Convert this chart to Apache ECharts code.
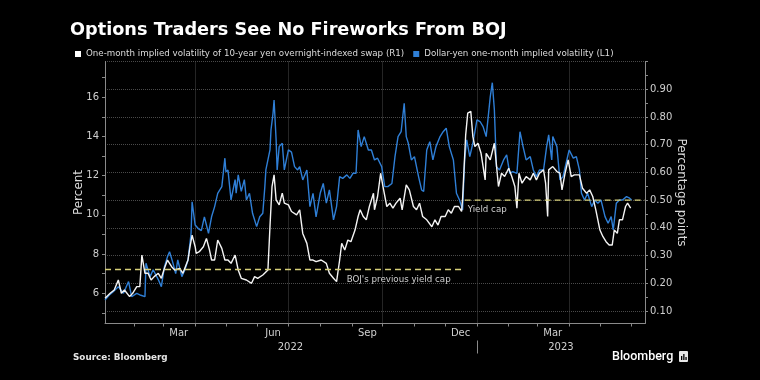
<!DOCTYPE html>
<html><head><meta charset="utf-8">
<script src="https://cdn.jsdelivr.net/npm/echarts@6/dist/echarts.min.js"></script>
<style>html,body{margin:0;padding:0;background:#000;}#c{width:760px;height:380px;}</style>
</head><body><div id="c"></div>
<script>
const titleText = 'Options Traders See No Fireworks From BOJ';
const swapName = 'One-month implied volatility of 10-year yen overnight-indexed swap (R1)';
const fxName = 'Dollar-yen one-month implied volatility (L1)';
const leftAxisName = 'Percent';
const rightAxisName = 'Percentage points';
const sourceText = 'Source: Bloomberg';
const logoText = 'Bloomberg';

const xMin = '2022-01-03';
const xMax = '2023-06-14';
const monthNames = ['Jan','Feb','Mar','Apr','May','Jun','Jul','Aug','Sep','Oct','Nov','Dec'];
const monthTicks = ['2022-02-01','2022-03-01','2022-04-01','2022-05-01','2022-06-01','2022-07-01','2022-08-01','2022-09-01','2022-10-01','2022-11-01','2022-12-01','2023-01-01','2023-02-01','2023-03-01','2023-04-01','2023-05-01','2023-06-01'];
const monthLabelDates = ['2022-03-16','2022-06-16','2022-09-16','2022-12-16','2023-03-16'];
const quarterLines = ['2022-04-01','2022-07-01','2022-10-01','2023-01-01','2023-04-01'];
const yearLabelDates = ['2022-07-03','2023-03-24'];
const yearDivider = ['2023-01-01'];

const leftMin = 4.46, leftMax = 17.82;
const leftLabels = [6, 8, 10, 12, 14, 16];
const leftTicks = [5, 6, 7, 8, 9, 10, 11, 12, 13, 14, 15, 16, 17];
const rightMin = 0.055, rightMax = 1.0;
const rightLabels = [0.1, 0.2, 0.3, 0.4, 0.5, 0.6, 0.7, 0.8, 0.9];
const rightTicks = [0.1, 0.15, 0.2, 0.25, 0.3, 0.35, 0.4, 0.45, 0.5, 0.55, 0.6, 0.65, 0.7, 0.75, 0.8, 0.85, 0.9, 0.95, 1.0];
const rightGrid = [0.1, 0.2, 0.3, 0.4, 0.5, 0.6, 0.7, 0.8, 0.9, 1.0];

const fxDates = ['2022-01-03','2022-01-07','2022-01-11','2022-01-16','2022-01-21','2022-01-26','2022-01-29','2022-02-03','2022-02-07','2022-02-11','2022-02-12','2022-02-16','2022-02-19','2022-02-24','2022-02-27','2022-03-02','2022-03-05','2022-03-07','2022-03-10','2022-03-13','2022-03-15','2022-03-19','2022-03-22','2022-03-25','2022-03-28','2022-03-29','2022-04-01','2022-04-04','2022-04-07','2022-04-10','2022-04-14','2022-04-17','2022-04-20','2022-04-23','2022-04-27','2022-04-30','2022-05-01','2022-05-03','2022-05-05','2022-05-06','2022-05-10','2022-05-11','2022-05-13','2022-05-16','2022-05-19','2022-05-21','2022-05-24','2022-05-27','2022-05-31','2022-06-03','2022-06-06','2022-06-08','2022-06-09','2022-06-13','2022-06-14','2022-06-16','2022-06-17','2022-06-19','2022-06-20','2022-06-22','2022-06-25','2022-06-27','2022-07-01','2022-07-04','2022-07-07','2022-07-10','2022-07-12','2022-07-15','2022-07-19','2022-07-22','2022-07-25','2022-07-28','2022-08-01','2022-08-04','2022-08-07','2022-08-10','2022-08-14','2022-08-17','2022-08-20','2022-08-23','2022-08-27','2022-08-30','2022-09-02','2022-09-05','2022-09-07','2022-09-10','2022-09-13','2022-09-17','2022-09-20','2022-09-23','2022-09-26','2022-09-30','2022-10-03','2022-10-06','2022-10-10','2022-10-13','2022-10-16','2022-10-19','2022-10-22','2022-10-24','2022-10-26','2022-10-29','2022-11-01','2022-11-05','2022-11-08','2022-11-10','2022-11-13','2022-11-16','2022-11-19','2022-11-22','2022-11-26','2022-11-29','2022-12-02','2022-12-05','2022-12-09','2022-12-12','2022-12-15','2022-12-18','2022-12-20','2022-12-22','2022-12-25','2022-12-28','2023-01-01','2023-01-04','2023-01-07','2023-01-10','2023-01-14','2023-01-16','2023-01-18','2023-01-20','2023-01-23','2023-01-27','2023-01-30','2023-02-02','2023-02-05','2023-02-09','2023-02-12','2023-02-15','2023-02-18','2023-02-22','2023-02-25','2023-02-28','2023-03-03','2023-03-07','2023-03-10','2023-03-12','2023-03-15','2023-03-16','2023-03-20','2023-03-23','2023-03-26','2023-03-29','2023-04-01','2023-04-05','2023-04-08','2023-04-11','2023-04-13','2023-04-16','2023-04-19','2023-04-23','2023-04-26','2023-04-29','2023-05-02','2023-05-06','2023-05-09','2023-05-12','2023-05-14','2023-05-17','2023-05-20','2023-05-23','2023-05-27','2023-05-30','2023-06-01'];
const fxValues = [5.66,5.90,6.08,6.34,6.00,6.60,5.83,6.00,5.90,5.83,7.53,6.85,7.20,6.70,6.34,7.36,7.87,8.12,7.60,7.00,7.70,6.85,7.20,7.70,9.06,10.67,9.48,9.30,9.20,9.90,9.06,9.90,10.42,11.10,11.44,12.89,12.20,12.29,11.27,10.76,11.80,11.10,12.04,11.20,11.80,10.76,11.10,10.08,9.40,9.90,10.08,11.44,12.29,13.31,14.33,15.18,15.86,13.82,12.29,13.48,13.65,12.29,13.31,13.20,12.46,12.29,12.46,11.78,12.29,10.42,11.10,9.90,11.10,11.60,10.60,11.27,9.74,10.42,11.95,11.86,12.04,11.86,12.12,12.12,14.33,13.48,13.99,13.31,13.31,12.80,12.89,12.46,11.44,11.44,11.60,12.97,13.99,14.24,15.69,13.99,13.65,12.80,12.97,11.95,11.27,11.19,13.31,13.73,12.80,13.48,13.99,14.24,14.42,13.48,12.80,11.10,10.76,10.25,12.80,13.82,12.97,13.65,14.84,14.76,14.50,13.99,16.03,16.74,15.35,12.46,12.29,12.80,13.06,12.12,12.20,12.12,14.24,13.48,12.80,12.97,12.29,11.95,12.29,12.29,13.48,14.08,12.80,13.99,13.48,11.78,11.95,12.63,13.31,12.89,12.97,12.29,11.10,10.76,11.10,10.42,10.76,10.59,10.76,9.91,9.57,9.91,9.23,10.59,10.76,10.76,10.93,10.85,10.76];

const swapDates = ['2022-01-03','2022-01-08','2022-01-12','2022-01-16','2022-01-19','2022-01-22','2022-01-27','2022-01-30','2022-02-03','2022-02-06','2022-02-08','2022-02-11','2022-02-14','2022-02-17','2022-02-20','2022-02-24','2022-02-27','2022-03-02','2022-03-05','2022-03-09','2022-03-12','2022-03-17','2022-03-20','2022-03-25','2022-03-27','2022-03-29','2022-04-01','2022-04-02','2022-04-05','2022-04-09','2022-04-12','2022-04-15','2022-04-17','2022-04-20','2022-04-23','2022-04-27','2022-04-30','2022-05-03','2022-05-06','2022-05-10','2022-05-13','2022-05-16','2022-05-21','2022-05-26','2022-05-29','2022-06-01','2022-06-06','2022-06-11','2022-06-13','2022-06-15','2022-06-17','2022-06-19','2022-06-22','2022-06-25','2022-06-27','2022-07-01','2022-07-04','2022-07-09','2022-07-12','2022-07-15','2022-07-19','2022-07-22','2022-07-25','2022-07-28','2022-08-02','2022-08-07','2022-08-10','2022-08-14','2022-08-17','2022-08-20','2022-08-22','2022-08-25','2022-08-28','2022-08-31','2022-09-04','2022-09-07','2022-09-09','2022-09-12','2022-09-15','2022-09-18','2022-09-22','2022-09-23','2022-09-26','2022-09-29','2022-10-01','2022-10-05','2022-10-08','2022-10-11','2022-10-14','2022-10-18','2022-10-20','2022-10-24','2022-10-27','2022-10-31','2022-11-03','2022-11-06','2022-11-09','2022-11-13','2022-11-18','2022-11-21','2022-11-24','2022-11-27','2022-12-01','2022-12-04','2022-12-07','2022-12-10','2022-12-14','2022-12-17','2022-12-18','2022-12-21','2022-12-23','2022-12-26','2022-12-28','2022-12-30','2023-01-02','2023-01-05','2023-01-09','2023-01-10','2023-01-14','2023-01-18','2023-01-22','2023-01-25','2023-01-28','2023-02-01','2023-02-04','2023-02-07','2023-02-09','2023-02-11','2023-02-14','2023-02-18','2023-02-22','2023-02-25','2023-02-28','2023-03-03','2023-03-07','2023-03-09','2023-03-11','2023-03-12','2023-03-16','2023-03-20','2023-03-23','2023-03-25','2023-03-28','2023-03-31','2023-04-03','2023-04-06','2023-04-11','2023-04-14','2023-04-18','2023-04-21','2023-04-24','2023-04-27','2023-05-01','2023-05-04','2023-05-07','2023-05-10','2023-05-13','2023-05-15','2023-05-18','2023-05-20','2023-05-23','2023-05-26','2023-05-28','2023-05-31'];
const swapValues = [0.146,0.164,0.176,0.212,0.164,0.176,0.152,0.164,0.188,0.188,0.302,0.236,0.236,0.212,0.224,0.236,0.218,0.254,0.284,0.260,0.248,0.254,0.236,0.284,0.332,0.374,0.332,0.308,0.314,0.332,0.362,0.320,0.284,0.284,0.356,0.326,0.284,0.284,0.272,0.302,0.248,0.218,0.212,0.200,0.224,0.218,0.230,0.248,0.404,0.549,0.591,0.501,0.483,0.525,0.489,0.483,0.459,0.447,0.465,0.380,0.344,0.284,0.284,0.278,0.284,0.272,0.236,0.218,0.206,0.284,0.344,0.320,0.356,0.350,0.392,0.441,0.465,0.441,0.429,0.477,0.525,0.465,0.513,0.597,0.555,0.477,0.489,0.471,0.489,0.507,0.465,0.555,0.537,0.477,0.465,0.489,0.441,0.429,0.404,0.429,0.410,0.441,0.441,0.465,0.453,0.477,0.477,0.459,0.507,0.735,0.814,0.820,0.729,0.693,0.705,0.669,0.573,0.669,0.645,0.705,0.549,0.597,0.585,0.615,0.585,0.549,0.471,0.597,0.561,0.585,0.573,0.597,0.573,0.597,0.609,0.561,0.441,0.609,0.621,0.603,0.597,0.537,0.597,0.645,0.585,0.591,0.591,0.543,0.525,0.537,0.513,0.465,0.392,0.368,0.350,0.338,0.338,0.392,0.380,0.429,0.429,0.477,0.489,0.471];

const prevCapDates = ['2022-01-03','2022-12-20'];
const prevCapValues = [0.25, 0.25];
const capDates = ['2022-12-20','2023-06-14'];
const capValues = [0.5, 0.5];
const prevCapLabel = "BOJ's previous yield cap";
const capLabel = 'Yield cap';

const FONT = 'DejaVu Sans';
const AXIS_COLOR = '#8a8a8a';
const LABEL_COLOR = '#cfcfcf';
const GRID_COLOR = '#4a4a4a';
const CAP_COLOR = '#d6cf78';

function ts(s) { const p = s.split('-').map(Number); return new Date(p[0], p[1] - 1, p[2]).getTime(); }
function zip(a, b) { return a.map((d, i) => [ts(d), b[i]]); }

const chart = echarts.init(document.getElementById('c'), null, {renderer: 'canvas'});
const option = {
  backgroundColor: '#000',
  animation: false,
  title: {
    text: titleText, left: 70, top: 21, padding: 0,
    textStyle: {color: '#ffffff', fontSize: 17.7, fontWeight: 'bold', fontFamily: FONT}
  },
  legend: {
    left: 75, top: 49.5, padding: 0, itemWidth: 6, itemHeight: 6, itemGap: 9, icon: 'rect',
    selectedMode: false,
    textStyle: {color: '#dcdcdc', fontSize: 8.7, fontFamily: FONT},
    data: [{name: swapName}, {name: fxName}]
  },
  grid: {left: 105, right: 115, top: 61.5, bottom: 56.5, containLabel: false, outerBoundsMode: 'none'},
  xAxis: [
    {
      type: 'value', min: ts(xMin), max: ts(xMax), position: 'bottom',
      axisLine: {show: true, lineStyle: {color: AXIS_COLOR, width: 1}},
      axisTick: {show: true, customValues: monthTicks.map(ts), length: 3, lineStyle: {color: AXIS_COLOR}},
      axisLabel: {customValues: monthLabelDates.map(ts), formatter: v => monthNames[new Date(v).getMonth()],
        color: LABEL_COLOR, fontSize: 10, fontFamily: FONT, margin: 5},
      splitLine: {show: false}
    },
    {
      type: 'value', min: ts(xMin), max: ts(xMax), position: 'bottom', offset: 17,
      axisLine: {show: false},
      axisTick: {show: true, customValues: yearDivider.map(ts), length: 13, lineStyle: {color: AXIS_COLOR}},
      axisLabel: {customValues: yearLabelDates.map(ts), formatter: v => String(new Date(v).getFullYear()),
        color: LABEL_COLOR, fontSize: 10, fontFamily: FONT, margin: 2},
      splitLine: {show: false}
    },
    {
      type: 'value', min: ts(xMin), max: ts(xMax), position: 'bottom',
      axisLine: {show: false},
      axisTick: {show: false, customValues: quarterLines.map(ts)},
      axisLabel: {show: false},
      splitLine: {show: true, lineStyle: {color: GRID_COLOR, type: 'dotted', width: 1}}
    }
  ],
  yAxis: [
    {
      type: 'value', position: 'left', min: leftMin, max: leftMax,
      name: leftAxisName, nameLocation: 'middle', nameGap: 20, nameMoveOverlap: false,
      nameTextStyle: {color: '#dadada', fontSize: 12, fontFamily: FONT},
      axisLine: {show: true, lineStyle: {color: AXIS_COLOR}},
      axisTick: {show: true, customValues: leftTicks, length: 3, lineStyle: {color: AXIS_COLOR}},
      axisLabel: {customValues: leftLabels, color: LABEL_COLOR, fontSize: 10, fontFamily: FONT, margin: 6},
      splitLine: {show: false}
    },
    {
      type: 'value', position: 'right', min: rightMin, max: rightMax,
      name: rightAxisName, nameLocation: 'middle', nameGap: 30, nameRotate: -90, nameMoveOverlap: false,
      nameTextStyle: {color: '#dadada', fontSize: 12, fontFamily: FONT},
      axisLine: {show: true, lineStyle: {color: AXIS_COLOR}},
      axisTick: {show: true, customValues: rightTicks, length: 3, lineStyle: {color: AXIS_COLOR}},
      axisLabel: {customValues: rightLabels, formatter: v => v.toFixed(2),
        color: LABEL_COLOR, fontSize: 10, fontFamily: FONT, margin: 5},
      splitLine: {show: false}
    },
    {
      type: 'value', position: 'right', min: rightMin, max: rightMax,
      axisLine: {show: false},
      axisTick: {show: false, customValues: rightGrid},
      axisLabel: {show: false},
      splitLine: {show: true, lineStyle: {color: GRID_COLOR, type: 'dotted', width: 1}}
    }
  ],
  series: [
    {
      name: fxName, type: 'line', xAxisIndex: 0, yAxisIndex: 0,
      data: zip(fxDates, fxValues), showSymbol: false, symbol: 'none',
      lineStyle: {color: '#2f7fd6', width: 1.4}, itemStyle: {color: '#2f7fd6'}, z: 3
    },
    {
      name: swapName, type: 'line', xAxisIndex: 0, yAxisIndex: 1,
      data: zip(swapDates, swapValues), showSymbol: false, symbol: 'none',
      lineStyle: {color: '#f4f4f4', width: 1.4}, itemStyle: {color: '#ffffff'}, z: 4
    },
    {
      name: 'prevCap', type: 'line', xAxisIndex: 0, yAxisIndex: 1, silent: true,
      data: zip(prevCapDates, prevCapValues), showSymbol: false, symbol: 'none',
      lineStyle: {color: CAP_COLOR, width: 1.4, type: [6, 4]}, z: 5,
      markPoint: {
        symbol: 'circle', symbolSize: 0, silent: true, itemStyle: {color: 'rgba(0,0,0,0)'},
        data: [{coord: [ts(prevCapDates[1]), prevCapValues[1]],
          label: {show: true, position: 'left', distance: 5, offset: [-9, 10], formatter: prevCapLabel,
            color: '#cfcfcf', fontSize: 8.7, fontFamily: FONT}}]
      }
    },
    {
      name: 'cap', type: 'line', xAxisIndex: 0, yAxisIndex: 1, silent: true,
      data: zip(capDates, capValues), showSymbol: false, symbol: 'none',
      lineStyle: {color: CAP_COLOR, width: 1.4, type: [6, 4]}, z: 5,
      markPoint: {
        symbol: 'circle', symbolSize: 0, silent: true, itemStyle: {color: 'rgba(0,0,0,0)'},
        data: [{coord: [ts(capDates[0]), capValues[0]],
          label: {show: true, position: 'right', distance: 5, offset: [-2, 10], formatter: capLabel,
            color: '#cfcfcf', fontSize: 8.7, fontFamily: FONT}}]
      }
    }
  ],
  graphic: [
    {type: 'text', left: 73, top: 353, silent: true,
      style: {text: sourceText, fill: '#e6e6e6', font: 'bold 8.8px "DejaVu Sans"'}},
    {type: 'text', left: 612, top: 350, silent: true,
      style: {text: logoText, fill: '#ffffff', font: '500 12.5px Roboto'}},
    {type: 'rect', left: 679, top: 351, silent: true,
      shape: {width: 9, height: 11, r: 1}, style: {fill: '#e8e8e8'}},
    {type: 'rect', left: 681, top: 356, silent: true, shape: {width: 1.3, height: 4}, style: {fill: '#000'}},
    {type: 'rect', left: 683.2, top: 354, silent: true, shape: {width: 1.3, height: 6}, style: {fill: '#000'}},
    {type: 'rect', left: 685.4, top: 357, silent: true, shape: {width: 1.3, height: 3}, style: {fill: '#000'}}
  ]
};
chart.setOption(option);
</script>
</body></html>
